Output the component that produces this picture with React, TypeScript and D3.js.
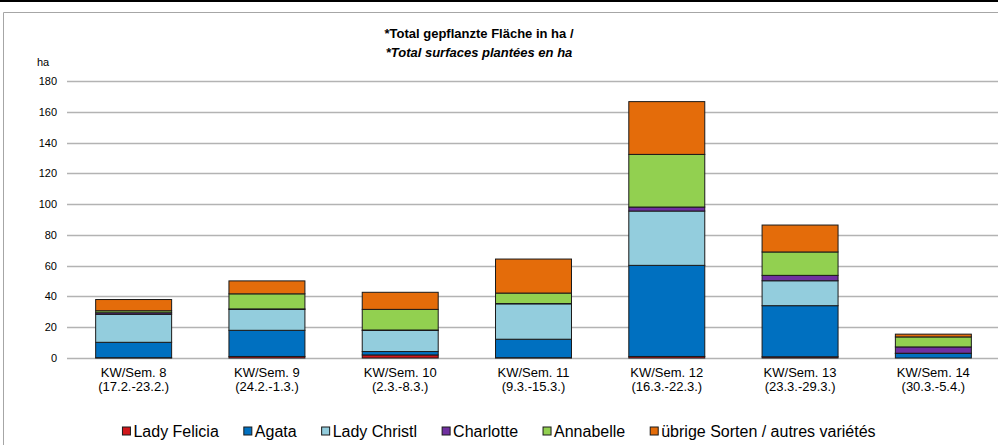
import React, { useEffect, useRef } from "react";
import * as d3 from "d3";

const weeks = ["KW/Sem. 8", "KW/Sem. 9", "KW/Sem. 10", "KW/Sem. 11", "KW/Sem. 12", "KW/Sem. 13", "KW/Sem. 14"];
const periods = ["(17.2.-23.2.)", "(24.2.-1.3.)", "(2.3.-8.3.)", "(9.3.-15.3.)", "(16.3.-22.3.)", "(23.3.-29.3.)", "(30.3.-5.4.)"];

const ladyFelicia = [0.2, 1, 2, 0.2, 1, 0.8, 0];
const agata = [10, 17, 2.2, 12, 59.2, 33.2, 3];
const ladyChristl = [18.2, 13.6, 13.7, 23, 35.3, 16.2, 0.1];
const charlotte = [1, 0.3, 0.3, 0.2, 2.6, 3.5, 4.1];
const annabelle = [1.3, 9.8, 13.4, 6.8, 34.2, 15.2, 6.5];
const uebrige = [7.3, 8.4, 11.1, 22.1, 34.3, 17.5, 1.8];

const seriesNames = ["Lady Felicia", "Agata", "Lady Christl", "Charlotte", "Annabelle", "übrige Sorten / autres variétés"];
const seriesColors = ["#d0171b", "#0070c0", "#93cddd", "#7030a0", "#92d050", "#e46c0a"];
const yTicks = [0, 20, 40, 60, 80, 100, 120, 140, 160, 180];

const FONT = "'Liberation Sans', Arial, sans-serif";

const App = () => {
  const ref = useRef<SVGSVGElement>(null);

  useEffect(() => {
    document.body.style.margin = "0";
    const svg = d3.select(ref.current);
    svg.selectAll("*").remove();

    const width = 998;
    const height = 445;
    const left = 67;
    const right = 1000;
    const top = 81;
    const bottom = 358;

    const seriesValues = [ladyFelicia, agata, ladyChristl, charlotte, annabelle, uebrige];
    const rows = weeks.map((w, i) => {
      const row: any = { week: w };
      seriesNames.forEach((s, j) => (row[s] = seriesValues[j][i]));
      return row;
    });
    const stacked = d3.stack().keys(seriesNames)(rows);

    const x = d3.scaleBand().domain(weeks).range([left, right]).paddingInner(0.43).paddingOuter(0.215);
    const y = d3.scaleLinear().domain([0, 180]).range([bottom, top]);
    const color = d3.scaleOrdinal<string>().domain(seriesNames).range(seriesColors);

    // page frame
    svg.append("line").attr("x1", 0).attr("x2", width).attr("y1", 1).attr("y2", 1).attr("stroke", "#000").attr("stroke-width", 2);
    svg.append("line").attr("x1", 3.5).attr("x2", width).attr("y1", 12.5).attr("y2", 12.5).attr("stroke", "#a6a6a6");
    svg.append("line").attr("x1", 3.5).attr("x2", 3.5).attr("y1", 12.5).attr("y2", height).attr("stroke", "#a6a6a6");

    // gridlines
    svg.append("g")
      .selectAll("line")
      .data(yTicks)
      .enter()
      .append("line")
      .attr("x1", left)
      .attr("x2", width)
      .attr("y1", (d) => Math.round(y(d)) + 0.5)
      .attr("y2", (d) => Math.round(y(d)) + 0.5)
      .attr("stroke", "#b3b3b3")
      .attr("stroke-width", 1.3);

    svg.append("g")
      .selectAll("text")
      .data(yTicks)
      .enter()
      .append("text")
      .attr("x", 57)
      .attr("y", (d) => y(d) + 4)
      .attr("text-anchor", "end")
      .style("font-family", FONT)
      .style("font-size", "11px")
      .text((d) => d);

    svg.append("text").attr("x", 37).attr("y", 66).style("font-family", FONT).style("font-size", "11px").text("ha");

    // bars
    svg.append("g")
      .selectAll("g")
      .data(stacked)
      .enter()
      .append("g")
      .attr("fill", (d) => color(d.key))
      .selectAll("rect")
      .data((d) => d)
      .enter()
      .append("rect")
      .attr("x", (d: any) => x(d.data.week)!)
      .attr("width", x.bandwidth())
      .attr("y", (d) => y(d[1]))
      .attr("height", (d) => Math.max(0, y(d[0]) - y(d[1])))
      .attr("stroke", "#1a1a1a")
      .attr("stroke-width", 1);

    // x labels
    const xl = svg.append("g")
      .selectAll("g")
      .data(weeks)
      .enter()
      .append("g")
      .attr("transform", (d) => `translate(${x(d)! + x.bandwidth() / 2},0)`);
    xl.append("text").attr("y", 377).attr("text-anchor", "middle").style("font-family", FONT).style("font-size", "13px").text((d) => d);
    xl.append("text").attr("y", 391).attr("text-anchor", "middle").style("font-family", FONT).style("font-size", "13px").text((d, i) => periods[i]);

    // title
    svg.append("text").attr("x", 479).attr("y", 38).attr("text-anchor", "middle").style("font-family", FONT).style("font-size", "13px").style("font-weight", "bold").text("*Total gepflanzte Fläche in ha /");
    svg.append("text").attr("x", 479).attr("y", 57).attr("text-anchor", "middle").style("font-family", FONT).style("font-size", "13px").style("font-weight", "bold").style("font-style", "italic").text("*Total surfaces plantées en ha");

    // legend
    const lg = svg.append("g");
    const items = lg.selectAll("g").data(seriesNames).enter().append("g");
    items.append("rect").attr("width", 8).attr("height", 8).attr("y", -10).attr("fill", (d) => color(d)).attr("stroke", "#1a1a1a").attr("stroke-width", 1);
    items.append("text").attr("x", 11).style("font-family", FONT).style("font-size", "16px").text((d) => d);
    let pos = 0;
    const gap = 25;
    items.each(function () {
      const t = d3.select(this).select("text").node() as SVGTextElement;
      d3.select(this).attr("transform", `translate(${pos},0)`);
      pos += 11 + t.getComputedTextLength() + gap;
    });
    const total = pos - gap;
    lg.attr("transform", `translate(${499 - total / 2},437)`);
  }, []);

  return <svg ref={ref} width={998} height={445} style={{ display: "block" }}></svg>;
};

export default App;
